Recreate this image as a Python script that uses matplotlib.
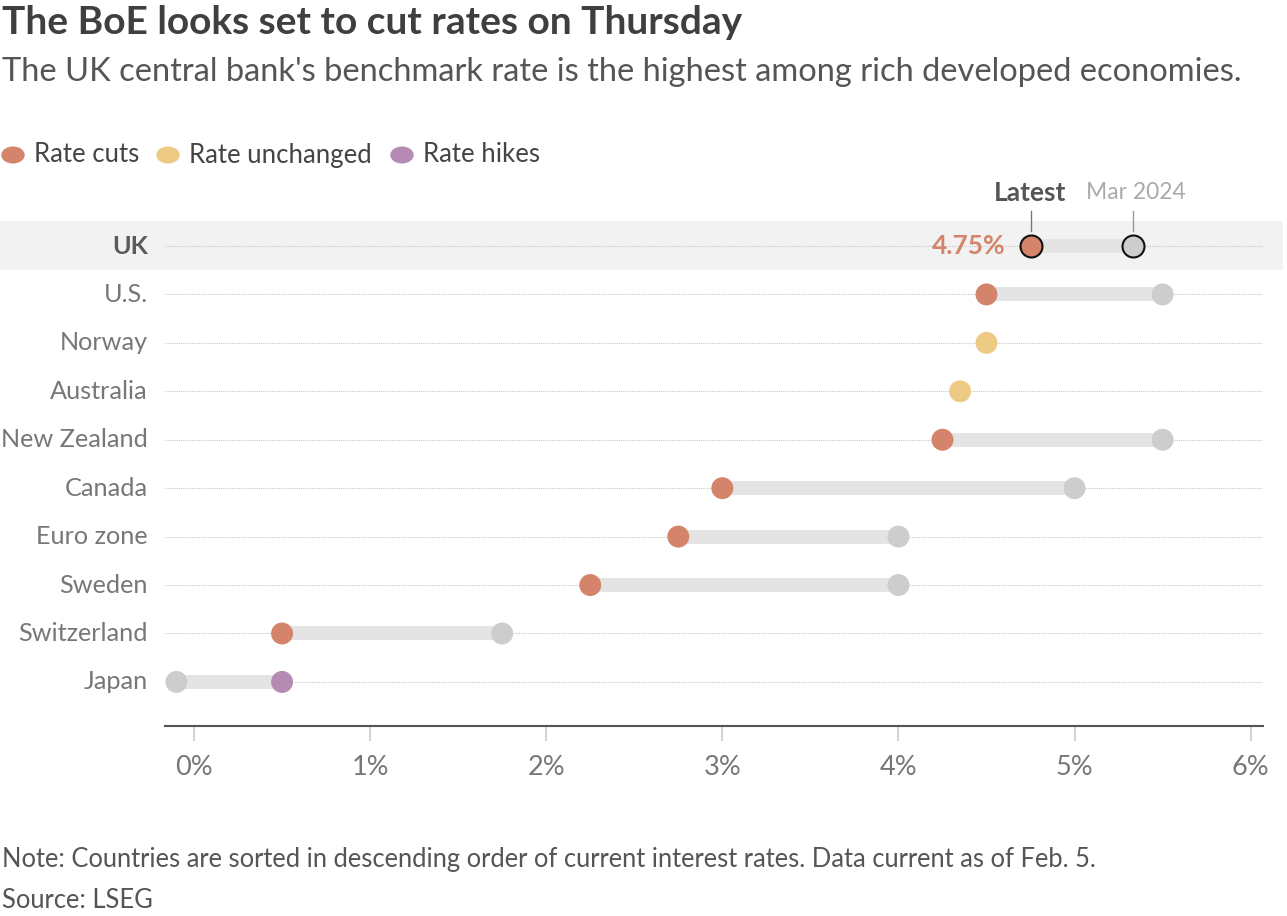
import matplotlib
matplotlib.use('Agg')
import matplotlib.pyplot as plt
from matplotlib.patches import Rectangle

plt.rcParams['font.family'] = ['Lato', 'DejaVu Sans']

# Data
countries = ['UK', 'U.S.', 'Norway', 'Australia', 'New Zealand', 'Canada',
             'Euro zone', 'Sweden', 'Switzerland', 'Japan']
latest = [4.75, 4.5, 4.5, 4.35, 4.25, 3.0, 2.75, 2.25, 0.5, 0.5]
mar_2024 = [5.33, 5.5, 4.5, 4.35, 5.5, 5.0, 4.0, 4.0, 1.75, -0.1]
change = ['cut', 'cut', 'same', 'same', 'cut', 'cut', 'cut', 'cut', 'cut', 'hike']
tick_vals = [0, 1, 2, 3, 4, 5, 6]
tick_labels = ['0%', '1%', '2%', '3%', '4%', '5%', '6%']

COLORS = {'cut': '#D4846B', 'same': '#EECB84', 'hike': '#B58BB3'}
GREY = '#CDCDCD'
W, H = 1287, 916

fig = plt.figure(figsize=(W / 100, H / 100), dpi=100)
fig.patch.set_facecolor('white')


def fx(px):
    return px / W


def fy(py):
    return 1 - py / H


# UK highlight band across the whole width
fig.patches.append(Rectangle((0, fy(270)), fx(1283), fy(221) - fy(270),
                             transform=fig.transFigure, facecolor='#F2F2F2',
                             edgecolor='none', zorder=-1))

ax = fig.add_axes([fx(165), fy(726), fx(1263) - fx(165), fy(221) - fy(726)])
ax.patch.set_alpha(0)
ax.set_xlim(-0.1647, 6.07)
ax.set_ylim(9.91, -0.516)

rows = list(range(len(countries)))

# dotted row guides
ax.hlines(rows, -0.1647, 6.07, colors='#C8C8C8', linestyles=(0, (1, 1)),
          linewidth=0.8, zorder=1)

# connecting bars
ax.hlines(rows, mar_2024, latest, colors='#E4E4E4', linewidth=10,
          capstyle='butt', zorder=2)

# previous (Mar 2024) markers
for i, (p, c) in enumerate(zip(mar_2024, change)):
    if c == 'same':
        continue
    edge = '#111111' if i == 0 else 'none'
    ax.scatter(p, i, s=250, color=GREY, edgecolors=edge, linewidths=1.5,
               zorder=3)

# latest markers
for i, (v, c) in enumerate(zip(latest, change)):
    edge = '#111111' if i == 0 else 'none'
    ax.scatter(v, i, s=250, color=COLORS[c], edgecolors=edge, linewidths=1.5,
               zorder=4)

# axis styling
for s in ['top', 'right', 'left']:
    ax.spines[s].set_visible(False)
ax.spines['bottom'].set_color('#555555')
ax.spines['bottom'].set_linewidth(1.5)
ax.set_xticks(tick_vals)
ax.set_xticklabels(tick_labels, fontsize=19.5, color='#777777')
ax.tick_params(axis='x', length=11, width=1.2, color='#CCCCCC', pad=10)
ax.set_yticks([])

# country labels
for i, name in enumerate(countries):
    fig.text(fx(148), fy(246 + 48.44 * i), name, ha='right', va='center',
             fontsize=18.2, color='#5A5A5A' if i == 0 else '#777777',
             fontweight='bold' if i == 0 else 'normal')

# UK annotations
ax.text(latest[0] - 0.14, 0, '4.75%', ha='right', va='center', fontsize=19,
        fontweight='bold', color='#D4846B')
ax.plot([latest[0], latest[0]], [-0.72, -0.31], color='#777777', lw=1,
        clip_on=False)
ax.plot([mar_2024[0], mar_2024[0]], [-0.72, -0.31], color='#999999', lw=1,
        clip_on=False)
ax.text(latest[0], -1.1, 'Latest', ha='center', va='center', fontsize=19,
        fontweight='bold', color='#555555')
ax.text(mar_2024[0] + 0.02, -1.1, 'Mar 2024', ha='center', va='center',
        fontsize=16.5, color='#AAAAAA')

# legend
leg_items = [(13, 34, 'Rate cuts', COLORS['cut']),
             (168, 189, 'Rate unchanged', COLORS['same']),
             (402, 423, 'Rate hikes', COLORS['hike'])]
for cx, tx, label, col in leg_items:
    fig.patches.append(plt.Circle((fx(cx), fy(155)), 11 / W,
                                  transform=fig.transFigure, color=col))
    fig.text(fx(tx), fy(155), label, ha='left', va='center', fontsize=18.5,
             color='#444444')

# titles and notes
fig.text(fx(2), fy(22), 'The BoE looks set to cut rates on Thursday',
         ha='left', va='center', fontsize=28, fontweight='bold',
         color='#3F3F3F')
fig.text(fx(2), fy(72), "The UK central bank's benchmark rate is the highest "
         "among rich developed economies.", ha='left', va='center',
         fontsize=23.5, color='#555555')
fig.text(fx(2), fy(859), 'Note: Countries are sorted in descending order of '
         'current interest rates. Data current as of Feb. 5.', ha='left',
         va='center', fontsize=18.4, color='#555555')
fig.text(fx(2), fy(901), 'Source: LSEG', ha='left', va='center', fontsize=18.4,
         color='#555555')

fig.savefig('out.png', dpi=100)
